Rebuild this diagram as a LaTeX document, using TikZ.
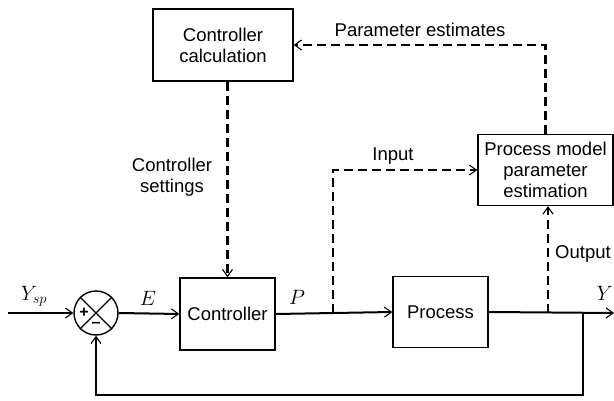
\documentclass[tikz,border=0pt]{standalone}
\usepackage{fontspec}
\setmainfont{Liberation Sans}
\usetikzlibrary{arrows.meta}
\begin{document}
\begin{tikzpicture}[x=1pt,y=-1pt,
  txt/.style={font=\fontsize{18.5}{21}\selectfont},
  box/.style={draw, line width=1.4pt, inner sep=0pt, align=center, txt},
  lbl/.style={txt, align=center, inner sep=0pt},
  mlbl/.style={font=\fontsize{20}{22}\selectfont, inner sep=0pt},
  sig/.style={line width=2pt, -{Straight Barb[length=7pt,width=10pt,line width=1.1pt]}},
  dsh/.style={sig, line width=2.2pt, dash pattern=on 9pt off 5pt}]
\useasboundingbox (0,0) rectangle (614,401);
% blocks
\node[box, minimum width=140pt, minimum height=72pt] (calc) at (223,45) {Controller\\calculation};
\node[box, minimum width=135pt, minimum height=71pt] (pm) at (545.5,170) {Process model\\parameter\\estimation};
\node[box, minimum width=95pt, minimum height=72pt] (ctrl) at (227.5,314) {Controller};
\node[box, minimum width=95pt, minimum height=71pt] (proc) at (440.5,312) {Process};
\node[draw, circle, line width=1.4pt, minimum size=44pt, inner sep=0pt] (sum) at (96,313) {};
\draw[line width=1.2pt] (sum.north west) -- (sum.south east) (sum.north east) -- (sum.south west);
\node[font=\fontsize{16}{16}\selectfont\bfseries, inner sep=0pt] (plus) at (84,313) {+};
\node[font=\fontsize{16}{16}\selectfont\bfseries, inner sep=0pt] (minus) at (96,325) {--};
% coordinates
\coordinate (start) at (8,313);
\coordinate (inp) at (333,313);
\coordinate (tap) at (548,313);
\coordinate (fb) at (583,313);
\coordinate (yend) at (614,313);
\coordinate (fbb) at (583,395);
% main loop
\draw[sig] (start) -- (sum.west);
\draw[sig] (sum.east) -- (ctrl.west);
\draw[sig] (ctrl.east) -- (proc.west);
\draw[sig] (proc.east) -- (yend);
\draw[sig] (fb) -- (fbb) -| (sum.south);
% dashed adaptation paths
\draw[dsh] (inp) |- (pm.west);
\draw[dsh] (tap) -- (tap |- pm.south);
\draw[dsh] (pm.north) |- (calc.east);
\draw[dsh] (ctrl.north |- calc.south) -- (ctrl.north);
% labels
\node[mlbl] (ysp) at (34,296) {$Y_{sp}$};
\node[mlbl] (elab) at (148,298) {$E$};
\node[mlbl] (plab) at (297,297) {$P$};
\node[mlbl, anchor=east] (ylab) at (613,293) {$Y$};
\node[lbl] (inlab) at (393,156) {Input};
\node[lbl] (pelab) at (420,30) {Parameter estimates};
\node[lbl] (cslab) at (172,177) {Controller\\settings};
\node[lbl, anchor=west] (outlab) at (555,254) {Output};
\end{tikzpicture}
\end{document}
